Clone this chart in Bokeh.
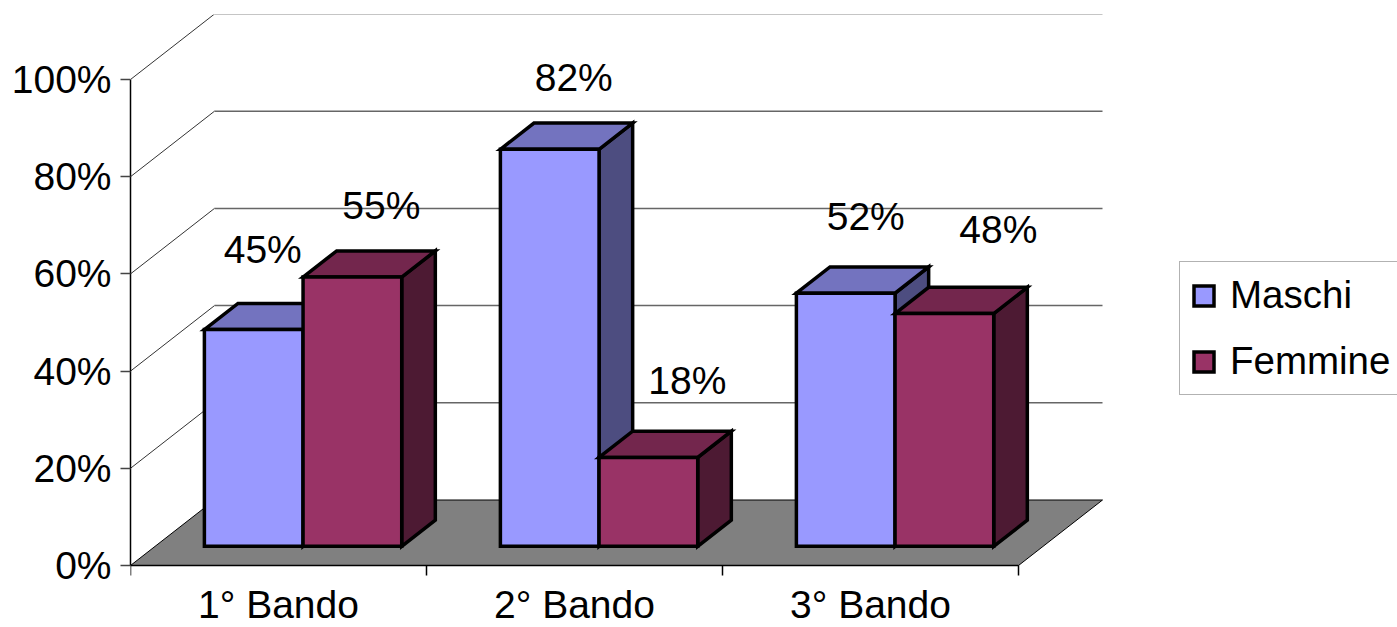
from bokeh.plotting import figure
from bokeh.models import FixedTicker, Legend, LegendItem, Range1d
from bokeh.core.properties import value
from bokeh.embed import file_html
from bokeh.resources import INLINE

categories = ["1° Bando", "2° Bando", "3° Bando"]
series_names = ["Maschi", "Femmine"]
maschi = [44.6, 81.7, 52.1]
femmine = [55.4, 18.3, 47.9]
maschi_labels = ["45%", "82%", "52%"]
femmine_labels = ["55%", "18%", "48%"]
y_ticks = [0, 20, 40, 60, 80, 100]

FONT = "Liberation Sans"
W, H = 1397, 627
LEFT, TOP, BOTTOM = 130, 14, 62
PX_X = 296.0           # pixels per category
PX_Y = 4.86            # pixels per percent
DX = 84 / PX_X         # wall depth in x units
DY = 65.5 / PX_Y       # wall depth in y units
D0, D1 = 19 / 65, 45 / 65   # bar depth span (fraction of wall depth)
GAP, BAR = 1 / 6, 1 / 3

p = figure(width=W, height=H, output_backend="svg", toolbar_location=None,
           min_border_left=LEFT, min_border_top=TOP, min_border_bottom=0, min_border_right=0,
           x_range=Range1d(0, (W - LEFT) / PX_X),
           y_range=Range1d(-BOTTOM / PX_Y, (H - TOP - BOTTOM) / PX_Y))
p.outline_line_color = None
p.grid.visible = False
p.background_fill_color = "white"

# axes
ya = p.yaxis[0]
ya.ticker = FixedTicker(ticks=y_ticks)
ya.major_label_overrides = {t: f"{t}%" for t in y_ticks}
ya.bounds = (0, 100)
ya.major_tick_in = 0
ya.major_tick_out = 10
ya.minor_tick_out = 0
ya.minor_tick_in = 0
ya.major_label_standoff = 9
ya.major_label_text_font = FONT
ya.major_label_text_font_size = "39px"
ya.major_label_text_color = "black"
ya.axis_line_color = "black"
ya.axis_line_width = 1.5
ya.major_tick_line_color = "#444444"
ya.major_tick_line_width = 1.5

xa = p.xaxis[0]
mids = [i + 0.5 for i in range(len(categories))]
xa.ticker = FixedTicker(ticks=mids, minor_ticks=list(range(len(categories) + 1)))
xa.major_label_overrides = {m: c for m, c in zip(mids, categories)}
xa.bounds = (0, len(categories))
xa.fixed_location = 0
xa.major_tick_in = 0
xa.major_tick_out = 0
xa.minor_tick_in = 0
xa.minor_tick_out = 10
xa.minor_tick_line_color = "black"
xa.minor_tick_line_width = 1.5
xa.major_label_standoff = 7
xa.major_label_text_font = FONT
xa.major_label_text_font_size = "39px"
xa.major_label_text_color = "black"
xa.axis_line_color = "black"
xa.axis_line_width = 1.5

# floor
n = len(categories)
p.patch([0, DX, n + DX, n], [0, DY, DY, 0], fill_color="#808080", line_color="black", line_width=1)

# walls
grid_levels = [t for t in y_ticks if t > 0]
p.multi_line([[0, DX] for _ in grid_levels], [[t, t + DY] for t in grid_levels],
             line_color="#333333", line_width=1)
p.multi_line([[DX, n + DX] for _ in grid_levels], [[t + DY, t + DY] for t in grid_levels],
             line_color="#666666", line_width=1.5)

# bars
styles = [("#9999FF", "#7373BF", "#4D4D80"), ("#993366", "#73264D", "#4D1A33")]
fronts = []
for s, vals in enumerate([maschi, femmine]):
    front_c, top_c, side_c = styles[s]
    lefts = [i + GAP + s * BAR + D0 * DX for i in range(n)]
    rights = [l + BAR for l in lefts]
    shift_x = (D1 - D0) * DX
    y0 = D0 * DY
    shift_y = (D1 - D0) * DY
    tops = [v + y0 for v in vals]
    kw = dict(line_color="black", line_width=3.5, line_join="miter")
    p.patches([[r, r + shift_x, r + shift_x, r] for r in rights],
              [[y0, y0 + shift_y, t + shift_y, t] for t in tops], fill_color=side_c, **kw)
    p.patches([[l, l + shift_x, r + shift_x, r] for l, r in zip(lefts, rights)],
              [[t, t + shift_y, t + shift_y, t] for t in tops], fill_color=top_c, **kw)
    fronts.append(p.quad(left=lefts, right=rights, bottom=y0, top=tops, fill_color=front_c, **kw))

# data labels (screen nudges relative to the top of the front face)
nudges = {0: ([9, 24, 20], [80, 72, 77]), 1: ([29, 39, 54], [72, 77, 84])}
for s, (vals, labs) in enumerate([(maschi, maschi_labels), (femmine, femmine_labels)]):
    xs = [i + GAP + s * BAR + D0 * DX + BAR / 2 for i in range(n)]
    ys = [v + D0 * DY for v in vals]
    p.text(x=xs, y=ys, text=labs,
           x_offset=nudges[s][0], y_offset=[-d for d in nudges[s][1]],
           text_align="center", text_baseline="middle",
           text_font=value(FONT), text_font_size="39px", text_color="black")

legend = Legend(items=[LegendItem(label=nm, renderers=[r]) for nm, r in zip(series_names, fronts)],
                location=(1049, 232), orientation="vertical", margin=0, padding=11,
                glyph_width=25, glyph_height=25, label_standoff=14, spacing=22,
                label_text_font=FONT, label_text_font_size="38.5px", label_text_color="black",
                border_line_color="#666666", border_line_width=1.5, background_fill_alpha=1)
p.add_layout(legend, "center")

open("out.html", "w").write(file_html(p, INLINE))
